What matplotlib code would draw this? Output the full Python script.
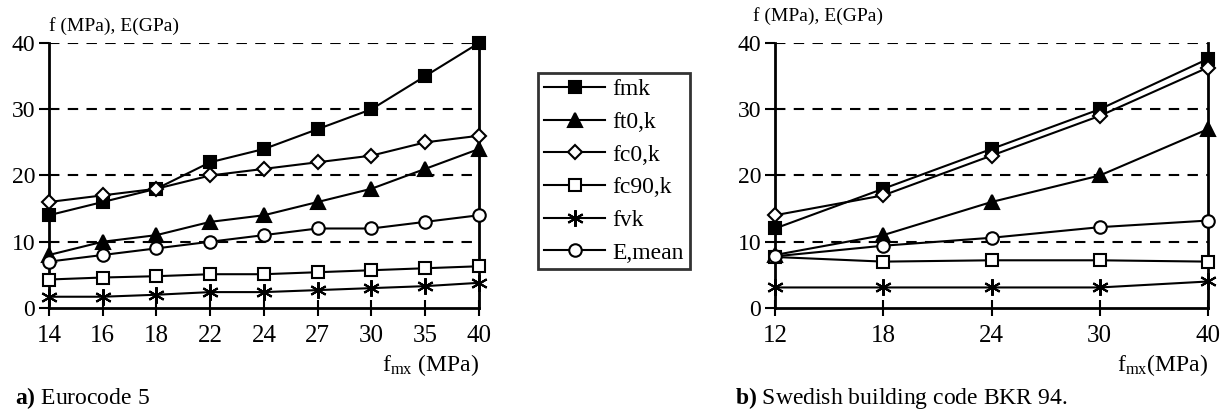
import matplotlib
matplotlib.use("Agg")
import matplotlib.pyplot as plt

plt.rcParams['font.family'] = ['Liberation Serif', 'DejaVu Serif']
plt.rcParams['mathtext.fontset'] = 'custom'
plt.rcParams['mathtext.rm'] = 'Liberation Serif'
plt.rcParams['mathtext.it'] = 'Liberation Serif:italic'
plt.rcParams['mathtext.bf'] = 'Liberation Serif:bold'

# ---- data: a) Eurocode 5 --------------------------------------------------|
ec5_classes = ["14", "16", "18", "22", "24", "27", "30", "35", "40"]
ec5_fmk = [14, 16, 18, 22, 24, 27, 30, 35, 40]
ec5_ft0k = [8, 10, 11, 13, 14, 16, 18, 21, 24]
ec5_fc0k = [16, 17, 18, 20, 21, 22, 23, 25, 26]
ec5_fc90k = [4.3, 4.6, 4.8, 5.1, 5.1, 5.4, 5.7, 6.0, 6.3]
ec5_fvk = [1.7, 1.7, 2.0, 2.4, 2.4, 2.7, 3.0, 3.3, 3.8]
ec5_emean = [7, 8, 9, 10, 11, 12, 12, 13, 14]

# ---- data: b) BKR 94 ------------------------------------------------------|
bkr_classes = ["12", "18", "24", "30", "40"]
bkr_fmk = [12, 18, 24, 30, 37.6]
bkr_ft0k = [8, 11, 16, 20, 27]
bkr_fc0k = [14, 17, 23, 29, 36.3]
bkr_fc90k = [7.7, 7.0, 7.2, 7.2, 7.0]
bkr_fvk = [3.1, 3.1, 3.1, 3.1, 4.0]
bkr_emean = [7.8, 9.4, 10.6, 12.2, 13.2]

labels = ["fmk", "ft0,k", "fc0,k", "fc90,k", "fvk", "E,mean"]
styles = [
    dict(marker="s", markersize=9, markerfacecolor="black"),
    dict(marker="^", markersize=10, markerfacecolor="black"),
    dict(marker="D", markersize=7.5, markerfacecolor="white"),
    dict(marker="s", markersize=9, markerfacecolor="white"),
    dict(marker=(6, 2, 0), markersize=12, markerfacecolor="black"),
    dict(marker="o", markersize=9, markerfacecolor="white"),
]


def draw(ax, classes, series, xlabel, ylab_x, ylab_y):
    x = list(range(len(classes)))
    handles = []
    for vals, lab, st in zip(series, labels, styles):
        h, = ax.plot(x, vals, color="black", lw=1.5, markeredgecolor="black",
                     markeredgewidth=1.5, label=lab, clip_on=False, zorder=3,
                     **st)
        handles.append(h)
    ax.set_xlim(0, len(classes) - 1)
    ax.set_ylim(0, 40)
    ax.set_yticks([0, 10, 20, 30, 40])
    ax.set_xticks(x)
    ax.set_xticklabels(classes, fontsize=18)
    ax.tick_params(axis="y", labelsize=17, direction="out", length=7,
                   width=1.5, pad=3)
    ax.tick_params(axis="x", direction="inout", length=12, width=1.5, pad=6)
    for y in [10, 20, 30, 40]:
        ax.axhline(y, color="black", lw=1.5, ls=(0, (5, 4)), zorder=1)
    ax.spines["top"].set_visible(False)
    for s in ["left", "right", "bottom"]:
        ax.spines[s].set_linewidth(2)
    ax.text(ylab_x, ylab_y, "f (MPa), E(GPa)", transform=ax.transAxes,
            fontsize=14, va="center", ha="left")
    ax.text(1.0, -0.215, xlabel, transform=ax.transAxes, fontsize=17,
            ha="right", va="center")
    return handles


fig = plt.figure(figsize=(12.3, 4.17), dpi=100)
ax1 = fig.add_axes([0.0398, 0.2614, 0.3496, 0.6355])
ax2 = fig.add_axes([0.6301, 0.2614, 0.3520, 0.6355])

h = draw(ax1, ec5_classes,
         [ec5_fmk, ec5_ft0k, ec5_fc0k, ec5_fc90k, ec5_fvk, ec5_emean],
         r"f$_{\mathrm{mx}}$ (MPa)", 0.0, 1.065)
draw(ax2, bkr_classes,
     [bkr_fmk, bkr_ft0k, bkr_fc0k, bkr_fc90k, bkr_fvk, bkr_emean],
     r"f$_{\mathrm{mx}}$(MPa)", -0.05, 1.10)

leg = fig.legend(handles=h, loc="upper left",
                 bbox_to_anchor=(538 / 1230, 1 - 73 / 417),
                 fontsize=17, frameon=True, fancybox=False,
                 handlelength=2.6, handletextpad=0.3, labelspacing=0.47,
                 borderpad=0.25, borderaxespad=0)
leg.get_frame().set_edgecolor("black")
leg.get_frame().set_linewidth(2)

fig.text(15 / 1230, 1 - 404 / 417, r"$\mathbf{a)}$ Eurocode 5", fontsize=17,
         va="baseline")
fig.text(735 / 1230, 1 - 404 / 417,
         r"$\mathbf{b)}$ Swedish building code BKR 94.",
         fontsize=17, va="baseline")

fig.savefig("out.png", dpi=100)
